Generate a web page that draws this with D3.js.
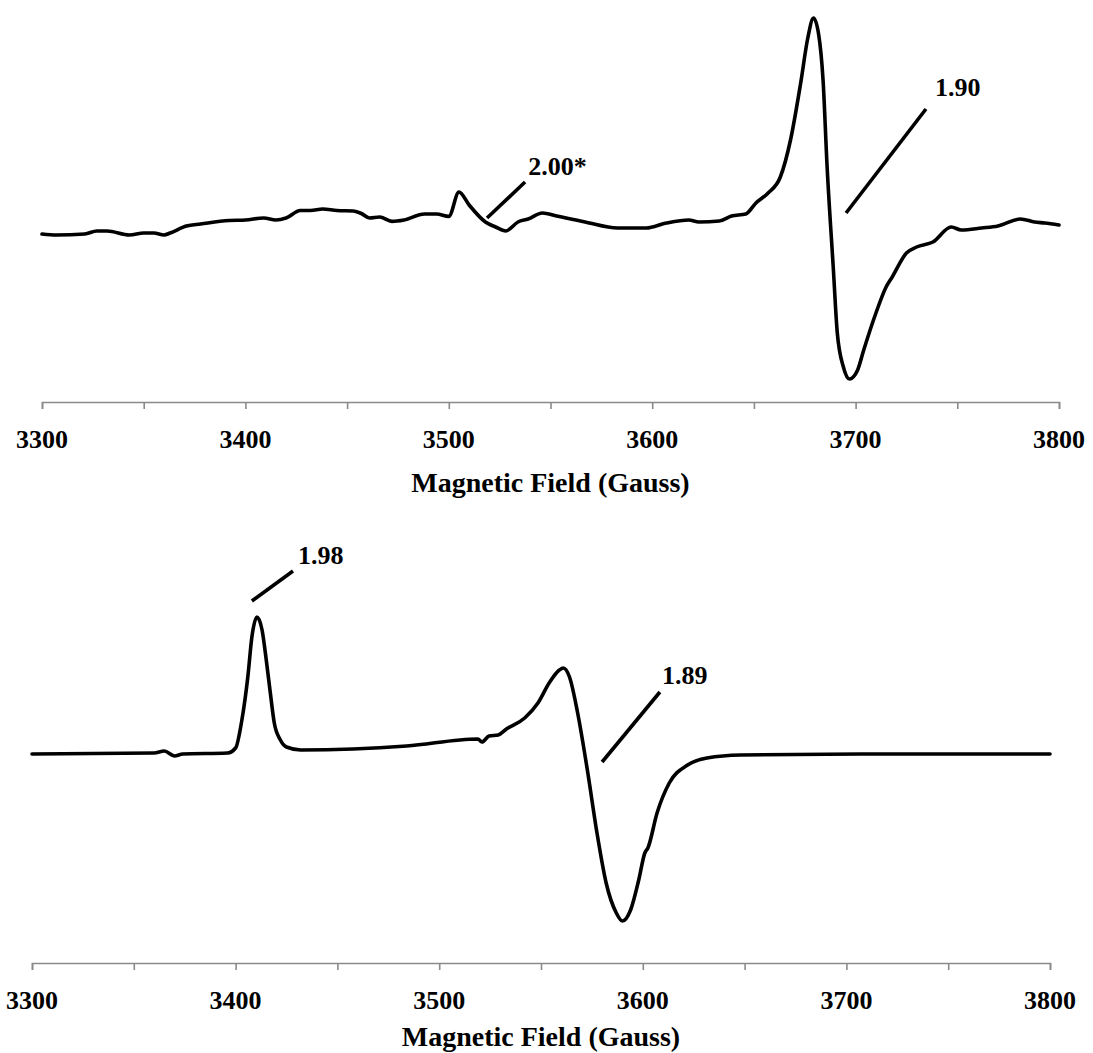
<!DOCTYPE html>
<html>
<head>
<meta charset="utf-8">
<script src="https://cdn.jsdelivr.net/npm/d3@7"></script>
<style>
  html, body { margin: 0; padding: 0; background: #fff; }
  svg { display: block; }
</style>
</head>
<body>
<svg id="chart" width="1093" height="1053"></svg>
<script>
// ---------- DATA ----------
const tickValues = [3300, 3400, 3500, 3600, 3700, 3800];
const axisTitle = "Magnetic Field (Gauss)";

// Top spectrum: magnetic field (G) and signal (a.u.)
const topField = [3300,3307,3321,3327,3332,3343,3350,3355,3360,3363,3371,3378,3392,3400,3409,3415,3420,3427,3432,3438,3445,3453,3457,3461,3466,3472,3478,3488,3494,3500,3505,3510,3518,3523,3528,3534,3539,3546,3553,3567,3583,3597,3607,3618,3623,3633,3639,3646,3651,3657,3663,3668,3673,3676.5,3679.3,3681.8,3684,3686,3689,3691,3694,3697,3701,3704,3710,3715,3718,3725,3730,3738,3747,3752,3762,3770,3781,3788,3793,3800];
const topSignal = [-4,-5,-4,-1,-1,-5,-3,-3,-5,-3,4,6,9.5,10,12,10,12,19.5,19.5,21,19.5,19,16.5,12,13,8.6,10,16,16,13.6,38,25,8,3,-1,8,11,17,14,8,2,2,7,10,8,9,14,16,27,37,53,90,147,192,212,196,150,63,-37,-103,-137,-149,-140,-120,-83,-57,-47,-23,-17,-12,3,0,2,4,11,8,7,5];

// Bottom spectrum
const botField = [3300,3360,3365,3370,3374,3396,3400,3403,3406,3408,3410.5,3413,3415,3417,3419,3422,3425,3432,3484,3519,3521,3524.5,3529,3533,3542,3548.5,3554,3559,3561,3564,3568,3573,3577.5,3582,3587,3590,3594,3598,3601,3602.5,3607,3613,3622,3631.5,3648,3707,3800];
const botSignal = [0,1,3,-2,0,1,6,33,77,117,137,124,95,62,31,14,7,4,8,15,12,18,19,25,36,51,71,84,86,77,41,-19,-79,-129,-159,-167,-156,-126,-99,-94,-59,-29,-11,-4,-1,0,0];

// Annotations: label, leader start (field, signal), leader end, label anchor
const topLabels = ["2.00*", "1.90"];
const topLeaderFrom = [[3518.8, 12], [3695.3, 17]];
const topLeaderTo = [[3537.5, 48], [3734.6, 121]];
const topLabelAt = [[3539, 55], [3739, 134]];

const botLabels = ["1.98", "1.89"];
const botLeaderFrom = [[3408, 153], [3580, -8]];
const botLeaderTo = [[3428.2, 183], [3608.4, 62]];
const botLabelAt = [[3430.6, 190], [3609.4, 70]];

// ---------- DRAW ----------
const svg = d3.select("#chart");
const serif = "'Liberation Serif', 'Times New Roman', Times, serif";

function panel(cfg) {
  const x = d3.scaleLinear().domain([3300, 3800]).range(cfg.xRange);
  const y = d3.scaleLinear().domain(cfg.yDomain).range(cfg.yRange);
  const g = svg.append("g");

  // axis
  const axis = d3.axisBottom(x)
    .tickValues(d3.range(3300, 3801, 50))
    .tickSize(7)
    .tickSizeOuter(7)
    .tickFormat("");
  const ag = g.append("g").attr("transform", `translate(0,${cfg.axisY})`).call(axis);
  ag.select(".domain").attr("stroke", "#8a8a8a").attr("stroke-width", 1.6);
  ag.selectAll(".tick line").attr("stroke", "#8a8a8a").attr("stroke-width", 1.6);

  // tick labels
  g.selectAll("text.tl").data(tickValues).enter().append("text")
    .attr("class", "tl")
    .attr("x", d => x(d))
    .attr("y", cfg.axisY + 46)
    .attr("text-anchor", "middle")
    .attr("font-family", serif)
    .attr("font-weight", "bold")
    .attr("font-size", 26)
    .text(d => d);

  g.append("text")
    .attr("x", (x(3300) + x(3800)) / 2)
    .attr("y", cfg.titleY)
    .attr("text-anchor", "middle")
    .attr("font-family", serif)
    .attr("font-weight", "bold")
    .attr("font-size", 28)
    .text(axisTitle);

  // spectrum
  const pts = cfg.field.map((f, i) => [f, cfg.signal[i]]);
  const line = d3.line()
    .x(d => x(d[0]))
    .y(d => y(d[1]))
    .curve(d3.curveMonotoneX);
  g.append("path")
    .datum(pts)
    .attr("d", line)
    .attr("fill", "none")
    .attr("stroke", "#000")
    .attr("stroke-width", 3.6)
    .attr("stroke-linejoin", "round")
    .attr("stroke-linecap", "round");

  // annotations
  cfg.labels.forEach((lab, i) => {
    g.append("line")
      .attr("x1", x(cfg.from[i][0])).attr("y1", y(cfg.from[i][1]))
      .attr("x2", x(cfg.to[i][0])).attr("y2", y(cfg.to[i][1]))
      .attr("stroke", "#000").attr("stroke-width", 3.6);
    g.append("text")
      .attr("x", x(cfg.at[i][0])).attr("y", y(cfg.at[i][1]))
      .attr("font-family", serif)
      .attr("font-weight", "bold")
      .attr("font-size", 26)
      .text(lab);
  });
}

panel({
  xRange: [42, 1059],
  yDomain: [-172, 230], yRange: [402, 0],
  axisY: 402, titleY: 492,
  field: topField, signal: topSignal,
  labels: topLabels, from: topLeaderFrom, to: topLeaderTo, at: topLabelAt
});

panel({
  xRange: [32, 1050],
  yDomain: [-209, 214], yRange: [963, 540],
  axisY: 963, titleY: 1046,
  field: botField, signal: botSignal,
  labels: botLabels, from: botLeaderFrom, to: botLeaderTo, at: botLabelAt
});
</script>
</body>
</html>
